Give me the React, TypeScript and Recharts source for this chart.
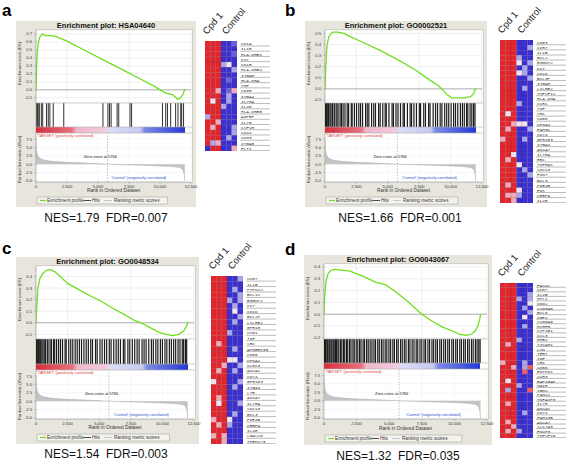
import React from 'react';
import {
  LineChart,
  Line,
  AreaChart,
  Area,
  ScatterChart,
  Scatter,
  XAxis,
  YAxis,
  CartesianGrid,
  ReferenceLine,
} from 'recharts';

// ranked list shared by all four analyses
const rankTicks = [0, 2500, 5000, 7500, 10000, 12500];
const rankedPos = [0, 20, 60, 150, 300, 600, 1000, 1500, 2500, 3500, 4500, 5766, 7000, 8500, 10000, 11000, 11600, 11850, 11950, 12000];
const rankedMetric = [7.5, 5.0, 3.5, 2.5, 1.8, 1.3, 1.0, 0.8, 0.55, 0.4, 0.25, 0, -0.15, -0.3, -0.5, -0.7, -1.0, -1.6, -3.0, -5.0];
const rankedTicks = [-5, -2.5, 0, 2.5, 5, 7.5];
const zeroCross = 5766;

// panel a
const esPosA = [0, 50, 120, 200, 300, 500, 800, 1200, 1600, 2500, 4000, 5500, 7000, 8500, 9500, 10000, 10500, 11000, 11300, 11450, 11650, 11850, 12000];
const esA = [0, 0.3, 0.5, 0.6, 0.66, 0.7, 0.68, 0.68, 0.67, 0.61, 0.49, 0.37, 0.25, 0.13, 0.05, 0.0, -0.04, -0.06, -0.1, -0.12, -0.1, -0.06, 0.01];
const hitsA = [20, 110, 180, 270, 430, 540, 850, 990, 1120, 1390, 2240, 5400, 5800, 5930, 6060, 6540, 6670, 7580, 7710, 10200, 10460, 10600, 10860, 11260, 11450, 11670, 11750, 11900];
const genesA = ['CD1A', 'IL1R', 'HLA-DRB1', 'KIT', 'CD1B', 'HLA-DRB4', 'ITGAM', 'HLA-DRA', 'TNF', 'CD38', 'ITGA4', 'IL7RA', 'IL4R', 'HLA-DRB5', 'ANPEP', 'IL7R', 'CSF1R', 'CD44', 'CD33', 'ITGA5', 'FLT1'];
const heatA = ['RRRBBb', 'RRRBBB', 'RRRBBb', 'RRRBBB', 'RRRlwB', 'RRRBBl', 'RRRBBB', 'RRRBbB', 'RRRBBB', 'RRpBbp', 'RRRBlB', 'RwRBlB', 'RRRlBB', 'RRRBBB', 'lRRBBB', 'RRpBBB', 'RpRBBl', 'RRRBBl', 'RRRBlB', 'RlpBBB', 'BRRBBp'];

// panel b
const esPosB = [0, 60, 150, 300, 600, 1000, 1500, 2000, 3000, 4500, 6000, 7200, 8200, 9000, 9300, 9700, 10100, 10600, 11100, 11600, 11850, 12000];
const esB = [0, 0.2, 0.38, 0.47, 0.51, 0.51, 0.5, 0.47, 0.42, 0.34, 0.25, 0.17, 0.09, 0.03, 0.0, -0.05, -0.08, -0.08, -0.08, -0.07, -0.04, 0.01];
const hitsB = [15, 55, 130, 220, 290, 400, 480, 600, 730, 790, 940, 1040, 1200, 1310, 1440, 1590, 1770, 1880, 2090, 2160, 2340, 2510, 2690, 2830, 2990, 3230, 3360, 3490, 3710, 3880, 4020, 4270, 4390, 4600, 4790, 4880, 5090, 5340, 5450, 5650, 5810, 6010, 6220, 6320, 6560, 6780, 6890, 7080, 7280, 7510, 7610, 7860, 8000, 8250, 8360, 8610, 8800, 8960, 9170, 9310, 9530, 9690, 9850, 10040, 10240, 10390, 10570, 10780, 10940, 11090, 11270, 11370, 11550, 11690, 11830, 11940];
const genesB = ['CD83', 'CCR7', 'IL1B', 'BCL2', 'B3GNT2', 'KIT', 'CD1D', 'BCL3P', 'ITGAM', 'LILRB2', 'TNFSF11', 'HLA-DMA', 'CCR1', 'TNF', 'SRC', 'CD86', 'KPNA4', 'FAM3C', 'CD74', 'GPR183', 'ITGA4', 'ANXA7', 'IL7RA', 'RB1', 'TNFRAS', 'SOX13', 'FZD7', 'BCL3', 'PDE4B', 'FOS', 'CEBPA', 'IL4R'];
const heatB = ['RRRBBB', 'RRRBBl', 'RRRBBB', 'RRRlBB', 'RRRwBl', 'RRRBlB', 'RRRwlB', 'RRRBBl', 'RRRBBB', 'RRRBlB', 'RRRBBB', 'RRRBBB', 'RRRlBB', 'RRRBBB', 'RwRBBB', 'RRRBBB', 'RRpwwB', 'RpRBBl', 'RRRBBB', 'pRRBlB', 'RRRBBB', 'RRRBBB', 'RRwBBB', 'RpRBBB', 'RRRwBB', 'RRRBlB', 'RRRBBl', 'RRRBBB', 'RpRBBB', 'RRRwBB', 'RpplBB', 'RRpBBB'];

// panel c
const esPosC = [0, 60, 150, 300, 500, 800, 1100, 1500, 2000, 2500, 3500, 4500, 5100, 6000, 7000, 7800, 8300, 9000, 9700, 10300, 10800, 11300, 11700, 11950, 12000];
const esC = [0, 0.15, 0.3, 0.38, 0.42, 0.45, 0.46, 0.44, 0.39, 0.34, 0.28, 0.22, 0.19, 0.13, 0.07, 0.02, 0.0, -0.04, -0.08, -0.1, -0.11, -0.1, -0.07, -0.02, 0.01];
const hitsC = [25, 75, 140, 210, 300, 340, 460, 550, 650, 750, 890, 950, 1110, 1220, 1380, 1480, 1630, 1790, 1940, 2100, 2300, 2390, 2590, 2750, 2910, 3100, 3260, 3430, 3600, 3790, 3970, 4140, 4330, 4470, 4710, 4840, 5060, 5230, 5420, 5590, 5800, 5940, 6150, 6340, 6510, 6680, 6910, 7030, 7270, 7420, 7620, 7810, 8000, 8160, 8390, 8550, 8710, 8920, 9130, 9280, 9480, 9640, 9840, 10000, 10200, 10350, 10550, 10710, 10890, 11050, 11240, 11390, 11570, 11680, 11820, 11920];
const genesC = ['CCR7', 'IL1B', 'PTPN22', 'BCL11', 'B3GNT2', 'KIT', 'CD1D', 'BCL2P', 'LILRB2', 'GPR18', 'CCR1', 'TNF', 'SRC', 'APOBEC3G', 'CD86', 'KPNA4', 'NLRC3', 'ANXA1', 'CD74', 'GPR183', 'ITGA4', 'LTB', 'ANXA7', 'IL7RA', 'SOX13', 'BCL3', 'PDE4B', 'CEBPA', 'IL4R', 'LGALS8', 'TMEM173'];
const heatC = ['RRRBBl', 'RRRBBB', 'RRRBlB', 'RRRBBl', 'RRRlBl', 'RRRBlB', 'RRRBwB', 'RRRBBl', 'RRRBlB', 'RRRBBB', 'RRRlBB', 'RRRBBB', 'RpRBBB', 'RRRBlB', 'RRRBBB', 'RRRwwB', 'RRpBBl', 'RpRBlB', 'RRRBBB', 'wRRBBl', 'RRRBlB', 'RRRBBB', 'RpRBBB', 'RwRBBl', 'RRRBBB', 'RRRBlB', 'pRRwBB', 'RpRlBB', 'RRRBBB', 'pRpBBB', 'RRpBBB'];

// panel d
const esPosD = [0, 50, 150, 300, 500, 800, 1200, 2000, 3000, 4000, 4700, 5500, 6400, 7500, 8300, 9100, 9800, 10400, 10900, 11300, 11600, 11800, 11950, 12000];
const esD = [0, 0.15, 0.28, 0.34, 0.37, 0.38, 0.375, 0.365, 0.32, 0.27, 0.25, 0.19, 0.11, 0.0, -0.06, -0.11, -0.14, -0.17, -0.18, -0.17, -0.14, -0.1, -0.04, 0.0];
const hitsD = [10, 45, 105, 160, 245, 300, 390, 450, 545, 610, 710, 780, 890, 960, 1070, 1140, 1270, 1370, 1500, 1590, 1730, 1820, 1960, 2070, 2220, 2320, 2470, 2590, 2730, 2840, 3000, 3110, 3270, 3390, 3540, 3680, 3830, 3950, 4120, 4240, 4400, 4530, 4690, 4820, 4980, 5110, 5280, 5400, 5570, 5690, 5870, 6000, 6160, 6290, 6470, 6590, 6760, 6900, 7070, 7190, 7360, 7500, 7670, 7790, 7970, 8100, 8280, 8410, 8570, 8700, 8880, 9010, 9180, 9320, 9490, 9620, 9800, 9930, 10100, 10230, 10410, 10540, 10710, 10840, 11010, 11140, 11310, 11440, 11610, 11740, 11870, 11970];
const genesD = ['FASN1', 'CCR7', 'IL1B', 'MPL1', 'NOD2', 'S100A8', 'BCL6', 'IGF1', 'S100A9', 'MTHFR', 'CYP1B1', 'CCL3', 'HMB1', 'TICAM1', 'LYN', 'TERT', 'TNF', 'SRC', 'CD86', 'ENTPD1', 'CCR3', 'RAP1GAP', 'MAIR', 'TGM2', 'PANX1', 'TNFAIP3', 'IL7R', 'ANXA1', 'CD74', 'FAM13B', 'ANXA7', 'SLC7A5', 'FOXP3', 'TNFSF10'];
const heatD = ['RRRBBB', 'RRRBBB', 'RRRBBl', 'RRRlBl', 'RRRBBw', 'RRRBlB', 'RRRBBl', 'RRRBwB', 'RRRBBB', 'RRRBlB', 'RRRBBB', 'RRRBBB', 'RRRlBB', 'RpRBBB', 'RRRBBB', 'RRRBBB', 'RRRBBB', 'pRRBlB', 'RRpBlr', 'RRRBrB', 'RRRBBB', 'RwRBBB', 'RRRlBB', 'RlRBBr', 'RRRBBB', 'RRRBBB', 'RpRBBB', 'RRRBBB', 'RRRBlB', 'RRRBBB', 'RpRBBB', 'RRpBBB', 'RpRlBB', 'RRRBBB'];

const panelLetters = ['a', 'b', 'c', 'd'];
const titles = ['Enrichment plot: HSA04640', 'Enrichment plot: GO0002521', 'Enrichment plot: GO0048534', 'Enrichment plot: GO0043067'];
const nesLabels = ['NES=1.79  FDR=0.007', 'NES=1.66  FDR=0.001', 'NES=1.54  FDR=0.003', 'NES=1.32  FDR=0.035'];
const groupLabels = ['Cpd 1', 'Control'];
const heatColTicks = [0, 1, 2, 3, 4, 5, 6];

const levelColor: Record<string, string> = {
  R: '#e3262c',
  r: '#ea5c64',
  p: '#f2aab8',
  w: '#efe4f0',
  l: '#aaa6ec',
  b: '#6a62dc',
  B: '#3a30d0',
};

const SANS = '"Liberation Sans", Arial, sans-serif';
const fmtRank = (v: number) => v.toLocaleString('en-US');

type GseaProps = {
  left: number;
  top: number;
  w: number;
  h: number;
  title: string;
  esPos: number[];
  es: number[];
  esTicks: number[];
  esDomain: [number, number];
  hits: number[];
  hitW: number;
};

function GseaPlot({ left, top, w, h, title, esPos, es, esTicks, esDomain, hits, hitW }: GseaProps) {
  const k = h / 186;
  const yy = (v: number) => Math.round(v * k);
  const padL = 20;
  const padR = 5;
  const extra = 8; // room for the last x tick label
  const plotW = w - padL - padR;
  const esTop = yy(9);
  const esBot = yy(82);
  const hitsBot = yy(106);
  const barBot = yy(112);
  const rankBot = yy(161);
  const axisH = 9;
  const xAt = (r: number) => padL + (plotW * r) / 12500;

  const esData = esPos.map((r, i) => ({ rank: r, es: es[i] }));
  const hitData = hits.map((r) => ({ rank: r, y: 0.5 }));
  const rankData = rankedPos.map((r, i) => ({ rank: r, v: rankedMetric[i] }));
  const hitsH = hitsBot - esBot;
  const tick = { fontSize: 4.2, fill: '#333', fontFamily: SANS };
  const legX = padL + 1;
  const legY = yy(176);

  return (
    <div style={{ position: 'absolute', left, top, width: w, height: h, background: '#e8e6dc' }}>
      {/* white plot background */}
      <div
        style={{
          position: 'absolute',
          left: padL,
          top: esTop,
          width: plotW + 1,
          height: rankBot - esTop,
          background: '#fff',
          boxShadow: '0 0 0 0.5px #b8b8b8',
        }}
      />

      {/* Enrichment score */}
      <div style={{ position: 'absolute', left: 0, top: esTop }}>
        <LineChart width={w} height={esBot - esTop} data={esData} margin={{ top: 0, right: padR, bottom: 0, left: 0 }}>
          <CartesianGrid stroke="#e6e6e6" strokeWidth={0.6} />
          <XAxis type="number" dataKey="rank" domain={[0, 12500]} allowDataOverflow ticks={rankTicks} hide />
          <YAxis
            type="number"
            domain={esDomain}
            allowDataOverflow
            ticks={esTicks}
            interval={0}
            width={padL}
            tick={tick}
            tickSize={2}
            tickFormatter={(v: number) => v.toFixed(1)}
            stroke="#999"
            strokeWidth={0.5}
          />
          <ReferenceLine y={0} stroke="#a0a0a0" strokeWidth={0.8} />
          <Line type="linear" dataKey="es" stroke="#6ee01e" strokeWidth={1.3} dot={false} isAnimationActive={false} />
        </LineChart>
      </div>

      {/* Hits */}
      <div style={{ position: 'absolute', left: 0, top: esBot }}>
        <ScatterChart width={w} height={hitsH} margin={{ top: 0, right: padR, bottom: 0, left: padL }}>
          <XAxis type="number" dataKey="rank" domain={[0, 12500]} allowDataOverflow ticks={rankTicks} hide />
          <YAxis type="number" dataKey="y" domain={[0, 1]} allowDataOverflow ticks={[0, 1]} hide />
          <Scatter
            data={hitData}
            isAnimationActive={false}
            shape={(p: any) => (
              <line x1={p.cx} x2={p.cx} y1={0} y2={hitsH} stroke="#1a1a1a" strokeWidth={hitW} />
            )}
          />
        </ScatterChart>
      </div>

      {/* colour bar */}
      <div
        style={{
          position: 'absolute',
          left: padL,
          top: hitsBot,
          width: xAt(rankedPos[rankedPos.length - 1]) - padL,
          height: barBot - hitsBot,
          background:
            'linear-gradient(to right, #d62e3c 0%, #e8707c 24%, #f0b6ca 27%, #f4cadc 46%, #dcdcf4 49%, #c6caf0 70%, #7c8ae4 73%, #2438d4 100%)',
        }}
      />

      {/* Ranked list metric */}
      <div style={{ position: 'absolute', left: 0, top: barBot }}>
        <AreaChart
          width={w + extra}
          height={rankBot - barBot + axisH}
          data={rankData}
          margin={{ top: 0, right: padR + extra, bottom: 0, left: 0 }}
        >
          <CartesianGrid stroke="#eeeeee" strokeWidth={0.5} />
          <XAxis
            type="number"
            dataKey="rank"
            domain={[0, 12500]}
            allowDataOverflow
            ticks={rankTicks}
            interval={0}
            height={axisH}
            tick={tick}
            tickSize={2}
            tickMargin={1}
            tickFormatter={fmtRank}
            stroke="#999"
            strokeWidth={0.5}
          />
          <YAxis
            type="number"
            domain={[-5.3, 9.3]}
            allowDataOverflow
            ticks={rankedTicks}
            interval={0}
            width={padL}
            tick={tick}
            tickSize={2}
            tickFormatter={(v: number) => v.toFixed(1)}
            stroke="#999"
            strokeWidth={0.5}
          />
          <ReferenceLine x={zeroCross} stroke="#9a9a9a" strokeWidth={0.6} strokeDasharray="1.5 1.5" />
          <Area
            type="linear"
            dataKey="v"
            baseValue={0}
            stroke="#a8a8a8"
            strokeWidth={0.5}
            fill="#c4c4c4"
            fillOpacity={1}
            isAnimationActive={false}
          />
        </AreaChart>
      </div>

      {/* text and frame lines */}
      <svg width={w} height={h} style={{ position: 'absolute', left: 0, top: 0, pointerEvents: 'none' }} fontFamily={SANS}>
        <text x={w / 2} y={yy(7)} textAnchor="middle" fontSize={7.5} fontWeight="bold" fill="#111">
          {title}
        </text>
        <line x1={padL} x2={padL + plotW + 1} y1={esBot} y2={esBot} stroke="#b0b0b0" strokeWidth={0.6} />
        <line x1={padL} x2={padL + plotW + 1} y1={hitsBot} y2={hitsBot} stroke="#b0b0b0" strokeWidth={0.6} />
        <line x1={padL} x2={padL + plotW + 1} y1={barBot} y2={barBot} stroke="#b0b0b0" strokeWidth={0.6} />
        <text
          x={5}
          y={(esTop + esBot) / 2 - 3}
          transform={`rotate(-90 5 ${(esTop + esBot) / 2 - 3})`}
          textAnchor="middle"
          fontSize={4.3}
          fill="#333"
        >
          Enrichment score (ES)
        </text>
        <text
          x={5}
          y={(barBot + rankBot) / 2 + 2}
          transform={`rotate(-90 5 ${(barBot + rankBot) / 2 + 2})`}
          textAnchor="middle"
          fontSize={4.3}
          fill="#333"
        >
          Ranked list metric (tTest)
        </text>
        <text x={padL + 1} y={barBot + 3.8} fontSize={4} fill="#e03a3a">
          'TARGET' (positively correlated)
        </text>
        <text x={padL + plotW * 0.415} y={yy(137)} textAnchor="middle" fontSize={4} fill="#111">
          Zero cross at {zeroCross}
        </text>
        <text x={padL + plotW * 0.84} y={yy(158)} textAnchor="end" fontSize={4} fill="#3050d0">
          'Control' (negatively correlated)
        </text>
        <text x={padL + plotW / 2} y={yy(171)} textAnchor="middle" fontSize={4.8} fill="#333">
          Rank in Ordered Dataset
        </text>
        <rect x={legX} y={legY} width={plotW * 0.84} height={7} fill="#f4f3ee" stroke="#999" strokeWidth={0.5} />
        <line x1={legX + 3} x2={legX + 9} y1={legY + 3.5} y2={legY + 3.5} stroke="#6ee01e" strokeWidth={1.2} />
        <text x={legX + 10} y={legY + 5} fontSize={4.6} fill="#333">
          Enrichment profile
        </text>
        <line x1={legX + 47} x2={legX + 54} y1={legY + 3.5} y2={legY + 3.5} stroke="#222" strokeWidth={0.8} />
        <text x={legX + 55} y={legY + 5} fontSize={4.6} fill="#333">
          Hits
        </text>
        <line x1={legX + 67} x2={legX + 75} y1={legY + 3.5} y2={legY + 3.5} stroke="#c8c8c8" strokeWidth={1} />
        <text x={legX + 77} y={legY + 5} fontSize={4.6} fill="#333">
          Ranking metric scores
        </text>
      </svg>
    </div>
  );
}

type HeatProps = { left: number; top: number; w: number; h: number; genes: string[]; cells: string[] };

function Heatmap({ left, top, w, h, genes, cells }: HeatProps) {
  const labW = 36;
  const n = genes.length;
  const rowH = h / n;
  const colW = w / 6;
  const cellData = cells.flatMap((row, i) => row.split('').map((lv, j) => ({ col: j + 0.5, row: i + 0.5, lv })));
  const rowTicks = genes.map((_, i) => i + 0.5);

  const GeneTick = (p: any) => (
    <g>
      <line x1={p.x + 3} x2={p.x + 33} y1={p.y + rowH / 2 - 0.3} y2={p.y + rowH / 2 - 0.3} stroke="#777" strokeWidth={0.5} />
      <text x={p.x + 4} y={p.y + 1.5} fontSize={4.4} fontFamily='"Liberation Mono", monospace' fill="#333">
        {genes[Math.floor(p.payload.value)]}
      </text>
    </g>
  );

  return (
    <div style={{ position: 'absolute', left, top }}>
      <ScatterChart width={w + labW} height={h} margin={{ top: 0, right: 0, bottom: 0, left: 0 }}>
        <XAxis
          type="number"
          dataKey="col"
          domain={[0, 6]}
          allowDataOverflow
          ticks={heatColTicks}
          interval={0}
          height={0}
          tick={false}
          axisLine={false}
          tickLine={false}
        />
        <YAxis
          type="number"
          dataKey="row"
          domain={[0, n]}
          allowDataOverflow
          reversed
          orientation="right"
          width={labW}
          ticks={rowTicks}
          interval={0}
          tick={GeneTick}
          tickSize={0}
          tickMargin={0}
          axisLine={false}
          tickLine={false}
        />
        <Scatter
          data={cellData}
          isAnimationActive={false}
          shape={(p: any) => (
            <rect
              x={p.cx - colW / 2}
              y={p.cy - rowH / 2}
              width={colW}
              height={rowH}
              fill={levelColor[p.payload.lv]}
              stroke="rgba(50,0,40,0.3)"
              strokeWidth={0.3}
            />
          )}
        />
      </ScatterChart>
    </div>
  );
}

export default function App() {
  const boxes = [
    { left: 16, top: 21, w: 180, h: 186 },
    { left: 305, top: 21, w: 182, h: 186 },
    { left: 16, top: 257, w: 183, h: 187 },
    { left: 304, top: 255, w: 188, h: 190 },
  ];
  const es = [
    { esPos: esPosA, es: esA, esTicks: [-0.1, 0, 0.1, 0.2, 0.3, 0.4, 0.5, 0.6, 0.7], esDomain: [-0.165, 0.75] as [number, number], hits: hitsA, hitW: 0.9 },
    { esPos: esPosB, es: esB, esTicks: [-0.1, 0, 0.1, 0.2, 0.3, 0.4, 0.5], esDomain: [-0.127, 0.53] as [number, number], hits: hitsB, hitW: 1.2 },
    { esPos: esPosC, es: esC, esTicks: [-0.1, 0, 0.1, 0.2, 0.3, 0.4], esDomain: [-0.14, 0.49] as [number, number], hits: hitsC, hitW: 1.2 },
    { esPos: esPosD, es: esD, esTicks: [-0.2, -0.1, 0, 0.1, 0.2, 0.3, 0.4], esDomain: [-0.21, 0.425] as [number, number], hits: hitsD, hitW: 1.2 },
  ];
  const heats = [
    { left: 205, top: 41, w: 32, h: 110, genes: genesA, cells: heatA },
    { left: 500, top: 40, w: 33, h: 163, genes: genesB, cells: heatB },
    { left: 211, top: 276, w: 32, h: 168, genes: genesC, cells: heatC },
    { left: 500, top: 283, w: 33, h: 155, genes: genesD, cells: heatD },
  ];
  const letterPos = [
    { x: 2, y: 15.5 },
    { x: 285, y: 15.5 },
    { x: 2, y: 254 },
    { x: 285, y: 254.5 },
  ];
  const nesPos = [
    { x: 106, y: 222 },
    { x: 400, y: 222 },
    { x: 106, y: 458 },
    { x: 398, y: 460 },
  ];

  return (
    <div
      style={{
        position: 'absolute',
        left: 0,
        top: 0,
        width: 567,
        height: 464,
        background: '#fff',
        overflow: 'hidden',
        fontFamily: SANS,
      }}
    >
      {boxes.map((b, i) => (
        <GseaPlot key={i} {...b} title={titles[i]} {...es[i]} />
      ))}
      {heats.map((hm, i) => (
        <Heatmap key={i} {...hm} />
      ))}
      <svg width={567} height={464} style={{ position: 'absolute', left: 0, top: 0, pointerEvents: 'none' }} fontFamily={SANS}>
        {panelLetters.map((l, i) => (
          <text key={l} x={letterPos[i].x} y={letterPos[i].y} fontSize={17} fontWeight="bold" fill="#000">
            {l}
          </text>
        ))}
        {nesLabels.map((t, i) => (
          <text key={t} x={nesPos[i].x} y={nesPos[i].y} textAnchor="middle" fontSize={12} fill="#111" style={{ whiteSpace: 'pre' }}>
            {t}
          </text>
        ))}
        {heats.map((hm, i) =>
          groupLabels.map((g, j) => {
            const tx = hm.left + 2 + j * (hm.w * 0.6);
            const ty = hm.top - 6;
            return (
              <text key={`${i}-${g}`} x={tx} y={ty} transform={`rotate(-50 ${tx} ${ty})`} fontSize={9.5} fill="#222">
                {g}
              </text>
            );
          })
        )}
      </svg>
    </div>
  );
}
